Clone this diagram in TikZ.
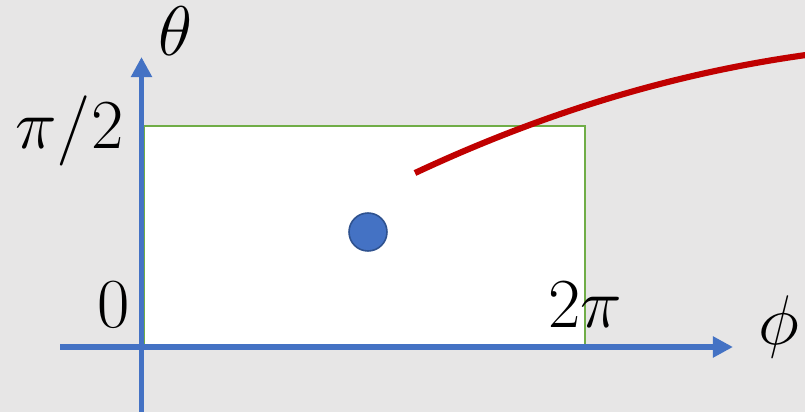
\RequirePackage{fix-cm}
\documentclass[tikz,border=0pt]{standalone}
\usepackage{amsmath,amssymb}
\usepackage{xcolor}
\usepackage{tikz}
\usetikzlibrary{arrows.meta}
\definecolor{bggray}{HTML}{E7E6E6}
\definecolor{axisblue}{HTML}{4472C4}
\definecolor{boxgreen}{HTML}{70AD47}
\definecolor{curvered}{HTML}{C00000}
\definecolor{dotedge}{HTML}{2F528F}

\begin{document}
\begin{tikzpicture}[x=0.02cm,y=-0.02cm]
\tikzstyle{axis}=[draw=axisblue,line width=3.4pt,-{Triangle[length=11.4pt,width=11.4pt]}]
\tikzstyle{region}=[rectangle,fill=white,draw=boxgreen,line width=1.1pt,inner sep=0pt,minimum width=8.82cm,minimum height=4.44cm,anchor=north west]
\tikzstyle{pt}=[circle,fill=axisblue,draw=dotedge,line width=0.9pt,inner sep=0pt,minimum size=0.76cm]
\tikzstyle{lbl}=[inner sep=0pt,anchor=base west,font=\fontsize{40}{48}\selectfont]
\fill[bggray] (0,0) rectangle (805,412);
\useasboundingbox (0,0) rectangle (805,412);
\node (box) [region] at (143,125) {};
\node (dot) [pt] at (368,232) {};
\coordinate (ylow) at (141.5,412);
\coordinate (ytip) at (141.5,57);
\coordinate (xlow) at (60,347);
\coordinate (xtip) at (733,347);
\draw[axis] (xlow) -- (xtip);
\draw[axis] (ylow) -- (ytip);
\coordinate (cfrom) at (415,173);
\coordinate (cto) at (806,55);
\draw[curvered,line width=3.5pt] (cfrom) .. controls (543,113) and (673,73.5) .. (cto);
\node (theta) [lbl] at (158,56) {$\theta$};
\node (halfpi) [lbl] at (15,149) {$\pi/2$};
\node (zero) [lbl] at (97,327) {$0$};
\node (twopi) [lbl] at (548,327) {$2\pi$};
\node (phi) [lbl] at (758,344) {$\phi$};
\end{tikzpicture}
\end{document}
